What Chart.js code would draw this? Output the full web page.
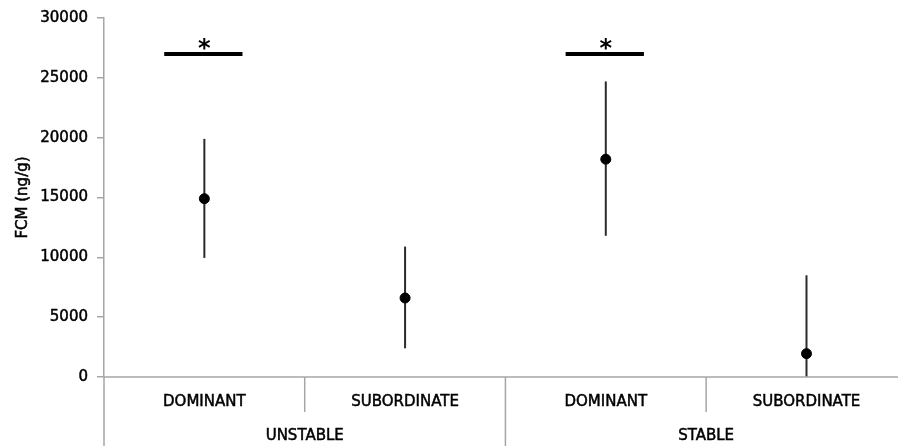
<!DOCTYPE html>
<html>
<head>
<meta charset="utf-8">
<script src="https://cdn.jsdelivr.net/npm/chart.js@4.4.0/dist/chart.umd.min.js"></script>
<style>
  html, body { margin: 0; padding: 0; background: #fff; overflow: hidden; }
  #wrap { width: 898px; height: 446px; position: relative; }
</style>
</head>
<body>
<div id="wrap"><canvas id="chart"></canvas></div>
<script>
// groups and categories along the x axis
const groups = ['UNSTABLE', 'STABLE'];
const categories = ['DOMINANT', 'SUBORDINATE', 'DOMINANT', 'SUBORDINATE'];

// FCM (ng/g) means and error bar ends
const means = [14900, 6600, 18200, 1950];
const lower = [9950, 2400, 11800, 0];
const upper = [19900, 10900, 24700, 8500];

// significance markers: category index pairs and height
const sigPairs = [[0, 0], [2, 2]];
const sigLevel = 27000;
const sigLabel = '*';

const yTicks = [0, 5000, 10000, 15000, 20000, 25000, 30000];
const yTitle = 'FCM (ng/g)';

const axisColor = '#a6a6a6';
const labelFont = '15px "DejaVu Sans"';

let datasets = [];
datasets.push({
    type: 'scatter',
    data: means.map((v, i) => ({ x: i, y: v })),
    backgroundColor: '#000',
    borderColor: '#000',
    pointRadius: 5,
    order: 0
});
for (let i = 0; i < means.length; i++) {
    datasets.push({
        type: 'line',
        data: [{ x: i, y: lower[i] }, { x: i, y: upper[i] }],
        borderColor: '#2a2a2a',
        borderWidth: 2,
        pointRadius: 0,
        order: 2
    });
}
sigPairs.forEach(p => {
    datasets.push({
        type: 'line',
        data: [{ x: p[0] - 0.2, y: sigLevel }, { x: p[1] + 0.19, y: sigLevel }],
        borderColor: '#000',
        borderWidth: 4,
        pointRadius: 0,
        order: 1
    });
});

function boldText(ctx, text, x, y) {
    ctx.fillText(text, x, y);
    ctx.strokeText(text, x, y);
}

const xAxisPlugin = {
    id: 'xAxisPlugin',
    afterDraw(chart) {
        const ctx = chart.ctx;
        const x = chart.scales.x;
        const y = chart.scales.y;
        const area = chart.chartArea;
        const bottom = chart.height;
        ctx.save();
        ctx.strokeStyle = axisColor;
        ctx.lineWidth = 1.5;
        // axis line
        ctx.beginPath();
        ctx.moveTo(area.left, area.bottom);
        ctx.lineTo(chart.width, area.bottom);
        // y axis continues down past the plot
        ctx.moveTo(area.left, area.bottom);
        ctx.lineTo(area.left, bottom);
        // separators between categories
        for (let i = 0; i < categories.length - 1; i++) {
            const px = x.getPixelForValue(i + 0.5);
            const full = (i + 1) % 2 === 0;
            ctx.moveTo(px, area.bottom);
            ctx.lineTo(px, full ? bottom : area.bottom + 35);
        }
        ctx.stroke();

        ctx.fillStyle = '#000';
        ctx.strokeStyle = '#000';
        ctx.lineWidth = 0.5;
        ctx.font = labelFont;
        ctx.textAlign = 'center';
        ctx.textBaseline = 'middle';
        categories.forEach((c, i) => {
            boldText(ctx, c, x.getPixelForValue(i), area.bottom + 25);
        });
        groups.forEach((g, i) => {
            boldText(ctx, g, x.getPixelForValue(i * 2 + 0.5), area.bottom + 59);
        });

        // y axis title
        ctx.save();
        ctx.translate(23, (area.top + area.bottom) / 2);
        ctx.rotate(-Math.PI / 2);
        boldText(ctx, yTitle, 0, 0);
        ctx.restore();

        // asterisks over significance bars
        ctx.font = 'bold 24px "DejaVu Sans"';
        ctx.textBaseline = 'alphabetic';
        sigPairs.forEach(p => {
            const cx = x.getPixelForValue((p[0] + p[1]) / 2);
            ctx.fillText(sigLabel, cx, y.getPixelForValue(sigLevel) + 2);
        });
        ctx.restore();
    }
};

new Chart(document.getElementById('chart'), {
    data: { datasets: datasets },
    options: {
        responsive: true,
        maintainAspectRatio: false,
        animation: false,
        layout: { padding: { top: 10, right: 0, bottom: 69, left: 0 } },
        plugins: { legend: { display: false }, tooltip: { enabled: false } },
        scales: {
            x: {
                type: 'linear',
                display: false,
                min: -0.5,
                max: 3.426
            },
            y: {
                min: 0,
                max: 30000,
                afterBuildTicks: s => { s.ticks = yTicks.map(v => ({ value: v })); },
                afterFit: s => { s.width = 104; },
                border: { display: true, color: axisColor, width: 1.5 },
                grid: { drawOnChartArea: false, drawTicks: true, tickLength: 7, color: axisColor, lineWidth: 1.5 },
                ticks: {
                    color: '#000',
                    font: { family: 'DejaVu Sans', size: 15 },
                    padding: 9,
                    textStrokeColor: '#000',
                    textStrokeWidth: 0.5,
                    callback: v => String(v)
                }
            }
        }
    },
    plugins: [xAxisPlugin]
});
</script>
</body>
</html>
